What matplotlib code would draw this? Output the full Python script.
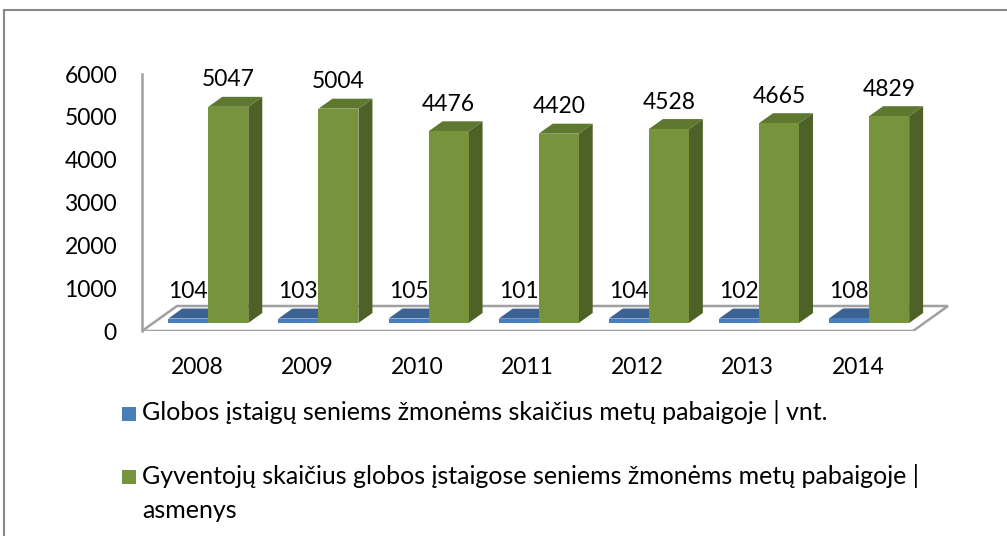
import matplotlib
matplotlib.use("Agg")
import matplotlib.pyplot as plt
from matplotlib.patches import Polygon, Rectangle
import numpy as np

# ---- data ----
years = ['2008', '2009', '2010', '2011', '2012', '2013', '2014']
facilities = [104, 103, 105, 101, 104, 102, 108]
residents = [5047, 5004, 4476, 4420, 4528, 4665, 4829]
series_labels = ['Globos įstaigų seniems žmonėms skaičius metų pabaigoje | vnt.',
                 'Gyventojų skaičius globos įstaigose seniems žmonėms metų pabaigoje |\nasmenys']
y_ticks = [0, 1000, 2000, 3000, 4000, 5000, 6000]

plt.rcParams['font.family'] = ['Lato', 'DejaVu Sans']

W, H = 1007, 536
fig = plt.figure(figsize=(W / 100, H / 100), dpi=100)

# axes box in pixels (from top)
L, R, T, B = 142, 952, 50, 331
ax = fig.add_axes([L / W, 1 - B / H, (R - L) / W, (B - T) / H])
px_per_val = 0.04283
px_per_cat = (913 - 142) / 7.0
ax.set_xlim(-0.5, -0.5 + (R - L) / px_per_cat)
ax.set_ylim(0, (B - T) / px_per_val)


def off(d):
    """depth offset (fraction of floor depth) -> data units"""
    return 35 * d / px_per_cat, 25 * d / px_per_val


x = np.arange(len(years))
w = 40 / px_per_cat
d_front, d_depth = 0.32, 0.40
oxf, oyf = off(d_front)
oxd, oyd = off(d_depth)

# floor
fx0, fx1 = -0.5, len(years) - 0.5
obx, oby = off(1.0)
floor = Polygon([(fx0, 0), (fx1, 0), (fx1 + obx, oby), (fx0 + obx, oby)],
                closed=True, facecolor='white', edgecolor='#A0A0A0', lw=1.8, zorder=1)
ax.add_patch(floor)

blue_front, blue_top = '#4A7EBB', '#3C6293'
green_front, green_side, green_top = '#77933C', '#4E6227', '#5F7830'

# blue bars
bx = x - w + oxf
bars_b = ax.bar(bx, facilities, width=w, bottom=oyf, align='edge', color=blue_front,
                edgecolor='none', zorder=3)
for xi, v in zip(bx, facilities):
    top = v + oyf
    ax.add_patch(Polygon([(xi, top), (xi + w, top), (xi + w + oxd, top + oyd), (xi + oxd, top + oyd)],
                         closed=True, facecolor=blue_top, edgecolor='none', zorder=2.5))

# green bars
gx = x + oxf
bars_g = ax.bar(gx, residents, width=w, bottom=oyf, align='edge', color=green_front,
                edgecolor='none', zorder=5)
for xi, v in zip(gx, residents):
    top = v + oyf
    ax.add_patch(Polygon([(xi + w, oyf), (xi + w, top), (xi + w + oxd, top + oyd), (xi + w + oxd, oyf + oyd)],
                         closed=True, facecolor=green_side, edgecolor='none', zorder=4))
    ax.add_patch(Polygon([(xi, top), (xi + w, top), (xi + w + oxd, top + oyd), (xi + oxd, top + oyd)],
                         closed=True, facecolor=green_top, edgecolor='none', zorder=4))

# data labels
lab_off = 27 * 0.72
for xi, v in zip(bx, facilities):
    ax.annotate(str(v), (xi + w / 2, v + oyf), xytext=(0, lab_off), textcoords='offset points',
                ha='center', va='center', fontsize=16.5, color='black', zorder=6)
for xi, v in zip(gx, residents):
    ax.annotate(str(v), (xi + w / 2, v + oyf), xytext=(0, lab_off), textcoords='offset points',
                ha='center', va='center', fontsize=16.5, color='black', zorder=6)

# axes styling
for s in ['top', 'right', 'bottom']:
    ax.spines[s].set_visible(False)
ax.spines['left'].set_color('#A0A0A0')
ax.spines['left'].set_linewidth(1.8)
ax.spines['left'].set_bounds(0, 6000)
ax.set_yticks(y_ticks)
ax.set_yticklabels([str(t) for t in y_ticks], fontsize=16.5)
ax.set_xticks(x)
ax.set_xticklabels(years, fontsize=16.5)
ax.tick_params(axis='y', length=0, pad=18)
ax.tick_params(axis='x', length=0, pad=19)
ax.patch.set_visible(False)

# legend (manual, figure pixel positions)
def fx(px):
    return px / W


def fy(py):
    return 1 - py / H


leg_colors = [blue_front, green_front]
sq_tops = [407, 469.5]
baselines = [420, 518]
for col, sq, bl, lab in zip(leg_colors, sq_tops, baselines, series_labels):
    fig.patches.append(Rectangle((fx(122), fy(sq + 14)), 14 / W, 14 / H, transform=fig.transFigure,
                                 facecolor=col, edgecolor='none'))
    fig.text(fx(142), fy(bl), lab, fontsize=18, ha='left', va='baseline', linespacing=1.58,
             color='black')

# outer border
fig.patches.append(Rectangle((4 / W, -0.1), 1.2, 1 - 10 / H + 0.1, transform=fig.transFigure,
                             fill=False, edgecolor='#888888', lw=1.5))

fig.savefig('out.png', dpi=100)
